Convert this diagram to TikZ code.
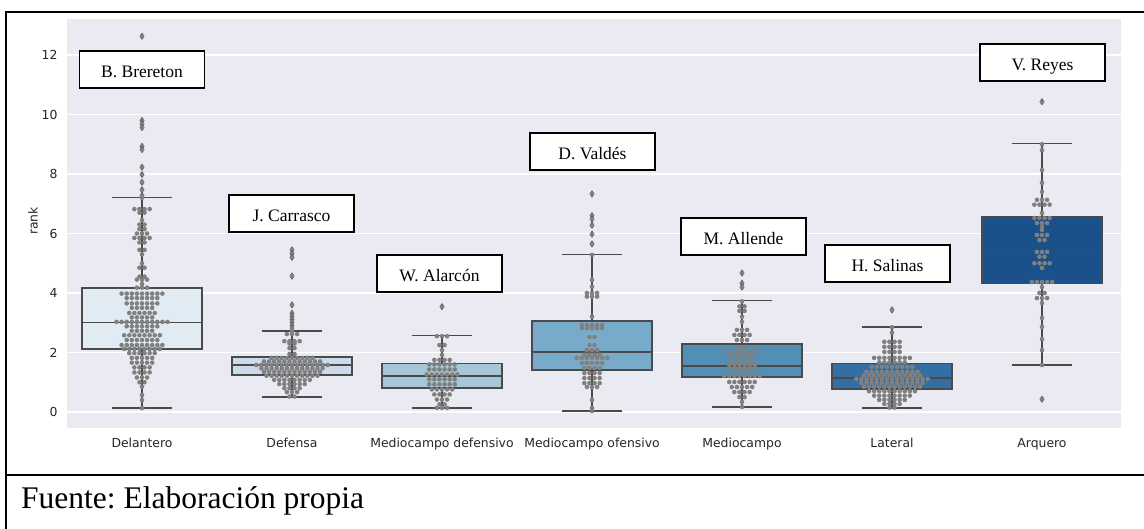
\documentclass[tikz,border=0pt]{standalone}
\usepackage{fontspec}
\setmainfont{Liberation Serif}
\newfontfamily\sbfont{DejaVu Sans}
\frenchspacing

\definecolor{plotbg}{HTML}{EAEAF2}
\definecolor{boxgray}{HTML}{4A4A4A}
\definecolor{ptgray}{HTML}{808080}
\definecolor{tickgray}{HTML}{262626}
\definecolor{blueA}{HTML}{E1EBF4}
\definecolor{blueB}{HTML}{CBDBEA}
\definecolor{blueC}{HTML}{A6C7D8}
\definecolor{blueD}{HTML}{78ABC9}
\definecolor{blueE}{HTML}{538FB5}
\definecolor{blueF}{HTML}{336FA3}
\definecolor{blueG}{HTML}{1A518A}

\newcommand{\swarm}[2]{\foreach \v/\n in {#2}{\foreach \k in {1,...,\n}{\fill[swarmpt] ({#1+(\k-(\n+1)/2)*0.034},\v) circle[radius=2.3pt];}}}
\newcommand{\fliers}[2]{\foreach \v in {#2}{\fill[boxgray] (#1,\v) ++(0pt,3.6pt) -- ++(2.4pt,-3.6pt) -- ++(-2.4pt,-3.6pt) -- ++(-2.4pt,3.6pt) -- cycle;
  \fill[swarmpt] (#1,\v) circle[radius=2.2pt];}}

\begin{document}
\begin{tikzpicture}[x=1pt,y=-1pt,
  swarmpt/.style={fill=ptgray},
  whisk/.style={draw=boxgray,line width=1.3pt},
  namebox/.style={draw,fill=white,line width=1.1pt,minimum width=125pt,minimum height=37pt,inner sep=0pt,
    text height=17pt,text depth=0pt,font=\fontsize{17.5}{20}\selectfont},
  ticklab/.style={font=\sbfont\fontsize{12.4}{14}\selectfont,text=tickgray}]
\useasboundingbox (0,0) rectangle (1144,529);
\fill[white] (0,0) rectangle (1144,529);

\begin{scope}[shift={(142,412)},x=150pt,y=29.75pt]
  \fill[plotbg] (-0.5,-0.54) rectangle (6.527,13.21);
  \foreach \t in {0,2,...,12}{
    \draw[white,line width=1.2pt] (-0.5,\t) -- (6.527,\t);
    \node[ticklab,anchor=east] (ytick\t) at (-0.54,\t) {\t};
  }
  \foreach \i/\lab in {0/Delantero,1/Defensa,2/Mediocampo defensivo,3/Mediocampo ofensivo,4/Mediocampo,5/Lateral,6/Arquero}
    \node[ticklab,anchor=base] (cat\i) at (\i,-1.18) {\lab};

  \foreach \i/\lo/\q/\m/\Q/\hi/\c in {0/0.13/2.12/3.0/4.17/7.2/blueA,1/0.5/1.24/1.58/1.85/2.72/blueB,
      2/0.13/0.81/1.21/1.62/2.56/blueC,3/0.03/1.41/2.02/3.06/5.29/blueD,4/0.17/1.18/1.55/2.29/3.74/blueE,
      5/0.13/0.77/1.14/1.62/2.86/blueF,6/1.58/4.31/5.39/6.57/9.02/blueG}{
    \filldraw[whisk,fill=\c] (\i-0.4,\q) rectangle (\i+0.4,\Q);
    \draw[whisk] (\i,\q) -- (\i,\lo) (\i-0.2,\lo) -- (\i+0.2,\lo) (\i,\Q) -- (\i,\hi) (\i-0.2,\hi) -- (\i+0.2,\hi);
    \draw[whisk] (\i-0.4,\m) -- (\i+0.4,\m);
  }

  \fliers{0}{12.63,9.8,9.68,9.56,8.93,8.82,8.23,7.98,7.72,7.47,7.28}
  \swarm{0}{7.2/1,6.82/4,6.7/2,6.45/1,6.3/2,6.15/2,6.0/3,5.85/4,5.7/2,5.45/2,5.3/1,5.0/1,4.85/2,4.55/2,4.45/3,4.3/1,4.18/3,
    3.98/9,3.83/7,3.65/7,3.5/5,3.33/6,3.18/5,3.03/11,2.88/7,2.73/5,2.58/8,2.42/7,2.25/9,2.12/8,1.98/6,1.82/5,1.66/5,
    1.5/4,1.33/4,1.16/3,1.0/2,0.85/1,0.57/1,0.4/1,0.13/1}
  \fliers{1}{5.45,5.32,5.2,4.57,3.6,3.32,3.22,3.12,3.02,2.92,2.82}
  \swarm{1}{2.72/1,2.62/3,2.38/4,2.3/2,2.15/2,1.95/2,1.82/9,1.7/12,1.58/15,1.47/13,1.35/12,1.22/11,1.08/8,0.94/6,
    0.8/4,0.67/3,0.52/2}
  \fliers{2}{3.54}
  \swarm{2}{2.55/3,2.25/2,2.08/1,1.92/1,1.75/4,1.6/6,1.43/6,1.26/7,1.1/6,0.93/6,0.76/5,0.59/4,0.42/3,0.26/2,0.14/3}
  \fliers{3}{7.33,6.6,6.48,6.28,5.98,5.65}
  \swarm{3}{5.28/1,4.44/1,4.21/1,4.0/3,3.88/3,3.2/1,2.92/5,2.82/5,2.52/2,2.25/2,2.08/3,1.93/4,1.82/7,1.65/5,1.48/4,
    1.31/4,1.14/4,0.97/4,0.84/3,0.4/1,0.13/1,0.03/1}
  \fliers{4}{4.67,4.33,4.2}
  \swarm{4}{3.72/1,3.55/2,3.4/2,3.2/1,3.03/1,2.76/3,2.59/4,2.42/3,2.19/2,2.02/7,1.88/5,1.71/5,1.58/6,1.41/5,1.21/8,
    1.01/6,0.84/5,0.67/4,0.5/2,0.34/1,0.17/1}
  \fliers{5}{3.43}
  \swarm{5}{2.85/1,2.66/1,2.36/4,2.19/4,2.02/4,1.82/8,1.67/6,1.52/9,1.35/11,1.23/12,1.11/15,0.98/13,0.85/12,0.7/10,
    0.55/8,0.41/6,0.27/4,0.15/2}
  \fliers{6}{10.43,0.43}
  \swarm{6}{9.0/1,8.8/1,8.13/1,7.7/1,7.4/1,7.13/3,6.97/4,6.69/1,6.52/4,6.35/3,6.22/1,6.12/1,5.95/3,5.78/2,5.38/3,
    5.22/2,5.0/4,4.84/1,4.37/5,4.2/1,4.0/2,3.83/3,3.66/1,3.16/1,2.86/1,2.45/1,2.08/1,1.58/1}
\end{scope}

\node[ticklab,rotate=90] (ylab) at (33,221) {rank};

\node[namebox] (brereton) at (142,69.5) {B. Brereton};
\node[namebox] (carrasco) at (291.5,213.5) {J. Carrasco};
\node[namebox] (alarcon) at (439.5,273.5) {W. Alarcón};
\node[namebox] (valdes) at (592.5,151.5) {D. Valdés};
\node[namebox] (allende) at (743.5,236.5) {M. Allende};
\node[namebox] (salinas) at (887.5,263.5) {H. Salinas};
\node[namebox] (reyes) at (1042.5,62.5) {V. Reyes};

\draw[line width=2pt] (6,529) -- (6,12) -- (1144,12);
\draw[line width=2pt] (6,475) -- (1144,475);
\node[anchor=base west,inner sep=0pt,font=\fontsize{31.5}{34}\selectfont] (fuente) at (21,508) {Fuente: Elaboración propia};
\end{tikzpicture}
\end{document}
